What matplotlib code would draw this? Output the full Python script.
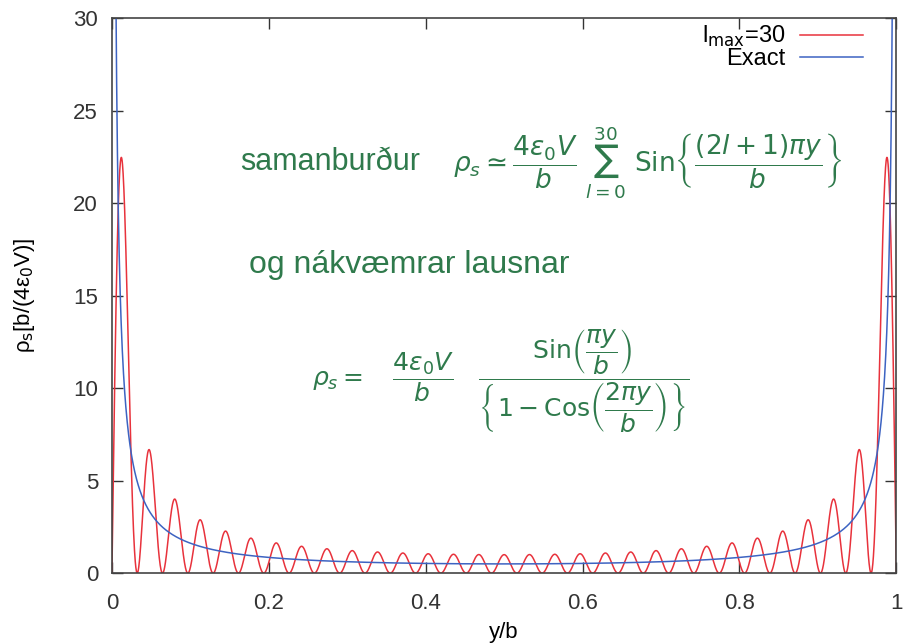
import numpy as np
import matplotlib.pyplot as plt

plt.rcParams['font.family'] = ['Liberation Sans', 'DejaVu Sans']
plt.rcParams['mathtext.fontset'] = 'dejavusans'

# chart content: partial sum up to l_max vs the exact charge density
l_max = 30
legend_labels = [r'l$_{\mathrm{max}}$=30', 'Exact']
x_ticks = [0, 0.2, 0.4, 0.6, 0.8, 1]
x_tick_labels = ['0', '0.2', '0.4', '0.6', '0.8', '1']
y_ticks = [0, 5, 10, 15, 20, 25, 30]
note_green = '#2f7a4c'

y = np.linspace(0, 1, 4001)
rho_sum = np.zeros_like(y)
for l in range(0, l_max + 1):
    rho_sum += np.sin((2 * l + 1) * np.pi * y)
with np.errstate(divide='ignore', invalid='ignore'):
    rho_exact = np.sin(np.pi * y) / (1 - np.cos(2 * np.pi * y))
rho_exact[~np.isfinite(rho_exact)] = np.nan

fig = plt.figure(figsize=(9.1, 6.44), dpi=100)
ax = fig.add_axes([0.123, 0.11, 0.862, 0.862])

ax.plot(y, rho_sum, color='#e8323c', lw=1.1, label=legend_labels[0])
ax.plot(y, rho_exact, color='#3d63c2', lw=1.1, label=legend_labels[1])

ax.set_xlim(0, 1)
ax.set_ylim(0, 30)
ax.set_xticks(x_ticks)
ax.set_xticklabels(x_tick_labels)
ax.set_yticks(y_ticks)
ax.tick_params(direction='in', length=8, width=1, top=True, right=True,
               labelsize=16, colors='#333333')
ax.tick_params(axis='x', pad=14)
ax.tick_params(axis='y', pad=10)
for s in ax.spines.values():
    s.set_color('#444444')
    s.set_linewidth(1.2)

ax.set_xlabel('y/b', fontsize=16, labelpad=6)
ax.set_ylabel('ρ$_\\mathrm{s}$[b/(4ε$_\\mathrm{0}$V)]', fontsize=16, labelpad=26)

ax.legend(loc='upper right', frameon=False, markerfirst=False, fontsize=17,
          handlelength=2.7, borderaxespad=0.0, labelspacing=-0.05,
          handletextpad=0.6, bbox_to_anchor=(0.97, 1.006))

# handwritten notes
ax.text(0.164, 0.74, 'samanburður', color=note_green, fontsize=22,
        transform=ax.transAxes, va='center')
ax.text(0.435, 0.74,
        r'$\rho_s \simeq \dfrac{4\epsilon_0 V}{b}\ \sum_{l=0}^{30}\ \mathrm{Sin}\left\{\dfrac{(2l+1)\pi y}{b}\right\}$',
        color=note_green, fontsize=19, transform=ax.transAxes, va='center')
ax.text(0.175, 0.555, 'og nákvæmrar lausnar', color=note_green, fontsize=23,
        transform=ax.transAxes, va='center')
ax.text(0.255, 0.345,
        r'$\rho_s =\ \ \ \dfrac{4\epsilon_0 V}{b}\ \ \ \dfrac{\mathrm{Sin}\left(\dfrac{\pi y}{b}\right)}{\left\{1-\mathrm{Cos}\left(\dfrac{2\pi y}{b}\right)\right\}}$',
        color=note_green, fontsize=18, transform=ax.transAxes, va='center')

fig.savefig('out.png', dpi=100)
